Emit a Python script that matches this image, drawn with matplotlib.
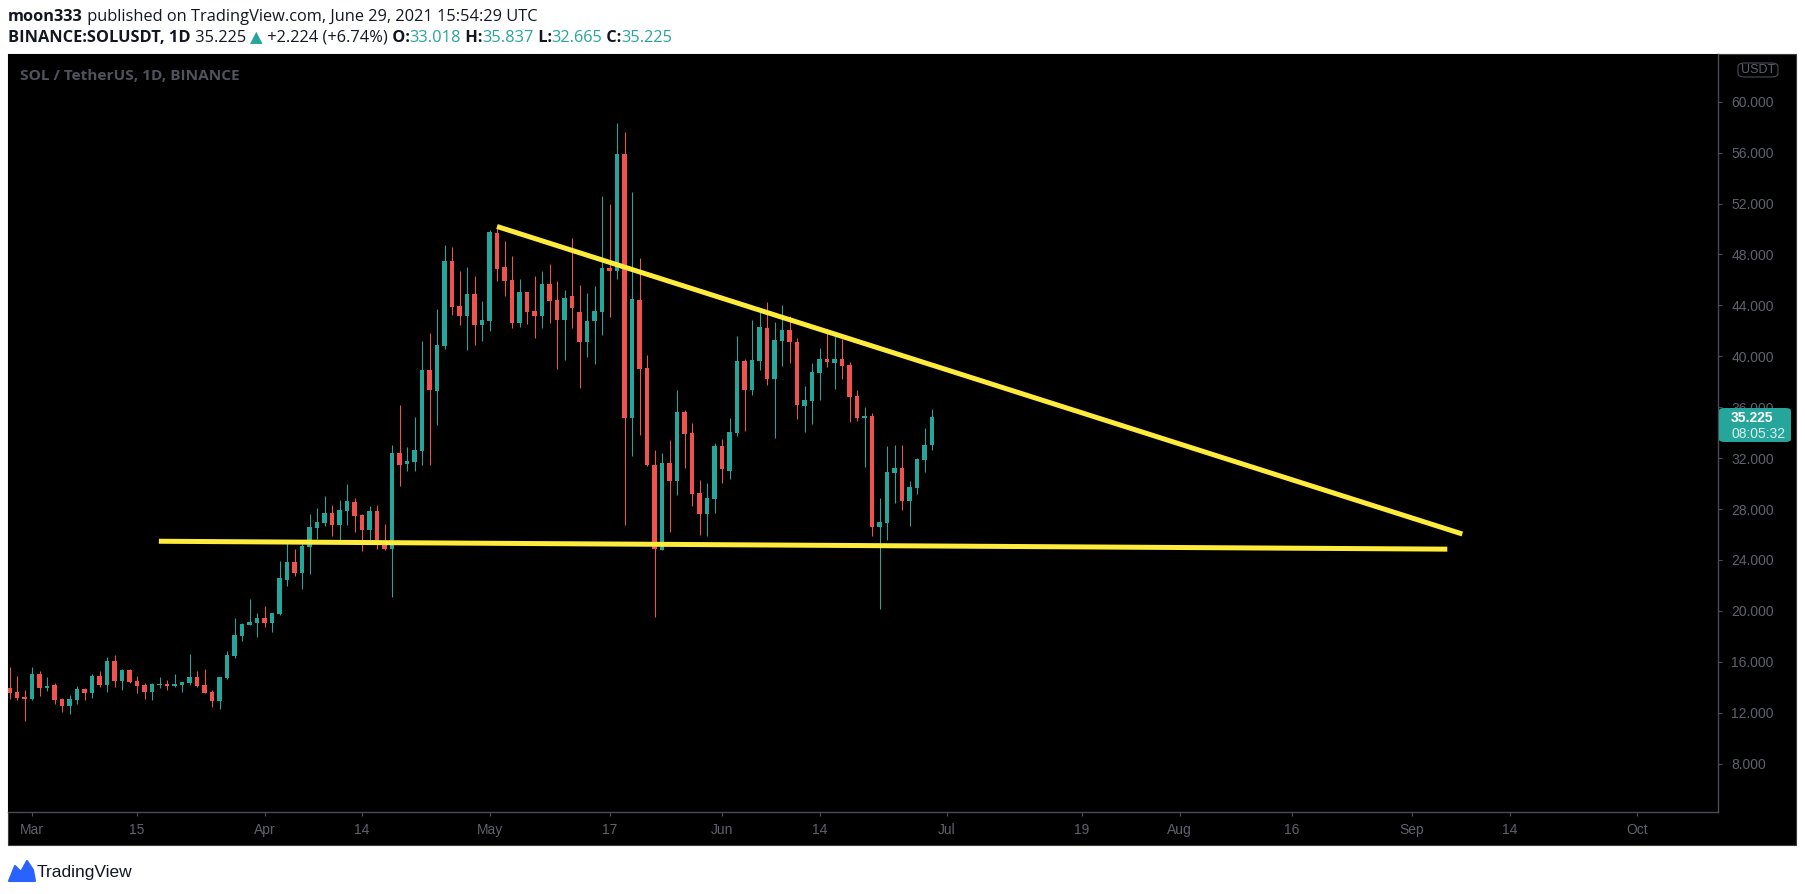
import matplotlib
matplotlib.use("Agg")
import matplotlib.pyplot as plt
import matplotlib.dates as mdates
from matplotlib.patches import Rectangle, FancyBboxPatch, Polygon
import pandas as pd

W, H = 1805, 894

# daily candles, SOL/USDT
dates = pd.date_range("2021-02-26", "2021-06-29", freq="D")
opens = [13.94, 13.62, 13.23,
         13.07, 15.04, 13.96, 14.17, 13.07, 12.52, 12.99, 13.86, 13.54, 14.88,
         14.17, 16.06, 14.49, 15.35, 14.49, 14.17, 13.62, 14.17, 14.25, 14.09,
         14.17, 14.33, 14.80, 14.17, 13.62, 12.92, 14.72, 16.45, 18.03, 18.92, 19.08,
         19.44, 19.08, 19.76, 22.43, 23.84, 22.98, 25.02, 26.51, 26.91, 27.69,
         26.75, 27.85, 28.56, 27.54, 26.36, 27.85, 25.33, 24.86, 32.41, 31.54,
         31.69, 32.56, 38.92, 37.27, 40.81, 47.49, 43.95, 43.16, 44.89, 42.46,
         42.77, 49.69, 47.01, 45.99, 42.61, 45.05, 43.56, 43.16, 45.68, 44.42,
         42.85, 44.70, 43.49, 41.13, 42.76, 43.51, 46.95, 46.71, 55.90, 35.16,
         44.43, 39.09, 31.49, 24.76, 31.65, 30.21, 35.60, 33.96, 29.24, 27.64, 28.80,
         32.96, 31.00, 33.97, 39.63, 37.35, 39.63, 42.22, 38.21, 41.20, 42.06,
         41.12, 36.09, 36.48, 38.68, 39.78, 39.47, 39.78, 39.31, 36.88, 35.15,
         35.31, 26.58, 26.90, 30.83, 31.22, 28.63, 29.65, 31.85, 33.018]
highs = [15.59, 14.88, 13.78,
         15.59, 15.27, 14.80, 14.33, 13.18, 13.36, 14.07, 13.94, 15.04, 15.27,
         16.37, 16.53, 15.43, 15.43, 14.88, 14.33, 14.33, 14.80, 14.57, 15.04,
         14.41, 16.61, 15.27, 15.43, 13.78, 14.80, 16.85, 19.44, 19.08, 20.94, 19.84,
         20.39, 19.84, 23.92, 25.57, 24.86, 25.33, 27.61, 28.08, 29.03, 28.32,
         28.71, 29.97, 28.87, 27.61, 28.24, 28.32, 26.83, 33.03, 36.18, 32.87,
         35.23, 41.20, 41.83, 43.71, 48.74, 48.59, 46.70, 47.01, 46.31, 44.34,
         49.92, 50.05, 49.06, 47.88, 46.07, 45.05, 46.31, 46.70, 47.25, 45.91,
         45.21, 49.30, 45.58, 44.98, 45.50, 52.58, 51.95, 58.29, 57.60, 52.94,
         47.76, 40.08, 32.65, 32.41, 33.43, 37.39, 35.76, 34.74, 30.31, 30.03, 33.17,
         33.51, 35.15, 41.59, 39.78, 42.85, 43.48, 44.26, 42.69, 44.03, 43.16,
         41.43, 37.66, 39.47, 40.65, 41.83, 41.83, 41.36, 39.55, 37.35, 36.01,
         35.54, 28.86, 32.95, 33.03, 33.03, 30.20, 32.01, 34.36, 35.837]
lows = [13.10, 13.02, 11.34,
        13.02, 13.31, 13.73, 12.68, 12.08, 11.89, 12.68, 12.99, 13.15, 14.02,
        13.62, 14.02, 13.78, 14.33, 13.54, 13.07, 12.99, 13.94, 13.78, 14.02,
        13.62, 14.17, 14.02, 13.54, 12.44, 12.29, 14.65, 16.29, 17.64, 18.92, 17.98,
        18.76, 18.37, 19.68, 21.98, 22.74, 21.72, 22.90, 25.65, 26.67, 25.88,
        25.49, 26.75, 26.20, 24.71, 25.41, 24.86, 24.78, 21.09, 29.81, 31.00,
        31.00, 31.46, 31.46, 34.60, 40.57, 43.24, 42.46, 40.49, 40.89, 41.20,
        41.99, 45.91, 44.74, 42.22, 42.30, 42.54, 41.44, 42.22, 42.61, 39.00,
        39.71, 42.20, 37.54, 39.95, 39.43, 41.66, 43.07, 46.08, 26.78, 32.20,
        33.85, 31.39, 19.50, 24.76, 26.18, 29.11, 31.21, 28.27, 25.94, 25.86, 27.72,
        30.05, 30.36, 33.73, 34.13, 36.96, 38.92, 37.74, 33.58, 39.23, 39.47,
        35.07, 34.05, 34.68, 36.56, 39.16, 37.43, 38.21, 34.83, 34.91, 31.30,
        25.88, 20.14, 25.56, 28.47, 27.92, 26.66, 29.18, 30.91, 32.665]
closes = [13.57, 13.18, 13.10,
          15.04, 13.94, 14.09, 12.99, 12.52, 13.07, 13.86, 13.54, 14.88, 14.17,
          16.06, 14.49, 15.35, 14.41, 14.09, 13.62, 14.25, 14.25, 14.09, 14.25,
          14.41, 14.80, 14.09, 13.54, 12.92, 14.80, 16.53, 18.10, 19.00, 19.16, 19.44,
          19.08, 19.84, 22.58, 23.84, 22.98, 25.10, 26.59, 26.98, 27.69, 26.75,
          27.93, 28.63, 27.46, 26.36, 27.85, 25.26, 24.86, 32.41, 31.46, 31.77,
          32.64, 38.92, 37.35, 40.89, 47.49, 43.87, 43.16, 44.89, 42.46, 42.85,
          49.76, 46.86, 45.91, 42.61, 45.05, 43.48, 43.16, 45.68, 44.34, 42.85,
          44.58, 43.80, 41.13, 42.81, 43.57, 46.92, 46.71, 55.90, 35.16, 44.51,
          39.04, 31.44, 24.84, 31.65, 30.21, 35.60, 33.93, 29.19, 27.64, 28.85, 32.96,
          31.13, 34.05, 39.63, 37.35, 39.71, 42.30, 38.21, 41.28, 42.06, 41.12,
          36.17, 36.56, 38.76, 39.78, 39.55, 39.78, 39.23, 36.80, 35.15, 35.31,
          26.58, 26.98, 30.91, 31.22, 28.63, 29.73, 31.93, 33.03, 35.225]

# hand-drawn trend lines
resist_dates = ["2021-05-02 00:00", "2021-09-07 17:00"]
resist_prices = [50.2, 26.04]
support_dates = ["2021-03-17 22:00", "2021-09-05 17:00"]
support_prices = [25.47, 24.85]

price_ticks = list(range(8, 61, 4))
time_tick_dates = ["2021-03-01", "2021-03-15", "2021-04-01", "2021-04-14",
                   "2021-05-01", "2021-05-17", "2021-06-01", "2021-06-14",
                   "2021-07-01", "2021-07-19", "2021-08-01", "2021-08-16",
                   "2021-09-01", "2021-09-14", "2021-10-01"]
time_tick_labels = ["Mar", "15", "Apr", "14", "May", "17", "Jun", "14",
                    "Jul", "19", "Aug", "16", "Sep", "14", "Oct"]

last_price = 35.225
countdown = "08:05:32"

UP = "#26a69a"
DOWN = "#ef5350"
GRID_TXT = "#5f626c"
SEP = "#4a4c55"
FONT = ["Liberation Sans", "DejaVu Sans"]
HEAD_FONT = ["Open Sans", "DejaVu Sans"]


def fx(x):
    return x / W


def fy(y):
    return 1 - y / H


fig = plt.figure(figsize=(W / 100, H / 100), dpi=100, facecolor="white")

# black chart pane incl. price / time scales
fig.patches.append(Rectangle((fx(8), fy(845)), fx(1796) - fx(8), fy(54) - fy(845),
                             transform=fig.transFigure, facecolor="black",
                             edgecolor="#3a3a3a", linewidth=0.8, zorder=-5))

ax = fig.add_axes([fx(8), fy(812), fx(1718) - fx(8), fy(54) - fy(812)])
ax.set_facecolor("black")

x = mdates.date2num(dates)
for xi, o, h, l, c in zip(x, opens, highs, lows, closes):
    col = UP if c >= o else DOWN
    ax.vlines(xi, l, h, color=col, linewidth=0.75, zorder=2)
    ax.bar(xi, max(abs(c - o), 0.08), width=0.66, bottom=min(o, c), color=col,
           linewidth=0, zorder=3)

ax.plot(mdates.date2num(pd.to_datetime(resist_dates)), resist_prices,
        color="#ffeb3b", linewidth=3.6, solid_capstyle="butt", zorder=4)
ax.plot(mdates.date2num(pd.to_datetime(support_dates)), support_prices,
        color="#ffeb3b", linewidth=3.6, solid_capstyle="butt", zorder=4)

x0 = mdates.date2num(pd.Timestamp("2021-03-01"))
ax.set_xlim(x0 - 3.2, x0 + 224.8)
ax.set_ylim(4.20, 63.75)

for s in ["top", "left"]:
    ax.spines[s].set_visible(False)
for s in ["right", "bottom"]:
    ax.spines[s].set_color(SEP)
    ax.spines[s].set_linewidth(1.0)

ax.yaxis.tick_right()
ax.set_yticks(price_ticks)
ax.set_yticklabels([f"{p:.3f}" for p in price_ticks], fontfamily=FONT)
ax.set_xticks(mdates.date2num(pd.to_datetime(time_tick_dates)))
ax.set_xticklabels(time_tick_labels, fontfamily=FONT)
ax.tick_params(axis="y", colors=SEP, labelcolor=GRID_TXT, labelsize=10,
               length=3, width=0.8, pad=6.5)
ax.tick_params(axis="x", colors=SEP, labelcolor=GRID_TXT, labelsize=10,
               length=3, width=0.8, pad=5)

# last price label on the price scale
fig.patches.append(FancyBboxPatch((fx(1719), fy(442)), fx(1791) - fx(1719), fy(408) - fy(442),
                                  boxstyle="round,pad=0,rounding_size=0.003",
                                  transform=fig.transFigure, facecolor=UP,
                                  edgecolor="none", zorder=10))
fig.text(fx(1731), fy(418), f"{last_price:.3f}", color="white", fontsize=10,
         fontweight="bold", family=FONT, va="center", ha="left", zorder=11)
fig.text(fx(1731), fy(434), countdown, color="#d6f0ed", fontsize=10,
         family=FONT, va="center", ha="left", zorder=11)

# currency badge
fig.patches.append(FancyBboxPatch((fx(1738), fy(77)), fx(1778) - fx(1738), fy(63) - fy(77),
                                  boxstyle="round,pad=0,rounding_size=0.004",
                                  transform=fig.transFigure, facecolor="black",
                                  edgecolor="#4a4c55", linewidth=0.8, zorder=10))
fig.text(fx(1758), fy(70), "USDT", color=GRID_TXT, fontsize=9, family=FONT,
         va="center", ha="center", zorder=11)

fig.text(fx(20), fy(76), "SOL / TetherUS, 1D, BINANCE", color="#4f535d",
         fontsize=11.1, fontweight="bold", family=HEAD_FONT, va="center", ha="left")

# header lines
renderer = fig.canvas.get_renderer()


def put_run(xpix, ypix, parts, size=11.8):
    for txt, weight, color in parts:
        t = fig.text(fx(xpix), fy(ypix), txt, fontsize=size, fontweight=weight,
                     color=color, family=HEAD_FONT, va="center", ha="left")
        xpix += t.get_window_extent(renderer).width


DARK = "#131722"
put_run(8, 17, [("moon333", "bold", DARK),
                (" published on TradingView.com, June 29, 2021 15:54:29 UTC", "normal", DARK)])
put_run(8, 38, [("BINANCE:SOLUSDT, 1D", "bold", DARK),
                (" 35.225 ", "normal", DARK),
                ("\u25b2", "normal", UP),
                (" +2.224 (+6.74%)", "normal", DARK),
                (" O:", "bold", DARK), ("33.018", "normal", UP),
                (" H:", "bold", DARK), ("35.837", "normal", UP),
                (" L:", "bold", DARK), ("32.665", "normal", UP),
                (" C:", "bold", DARK), ("35.225", "normal", UP)])

# footer logo
logo = [(9, 881), (15, 866), (21, 872), (27, 861), (33, 870), (35, 881)]
fig.patches.append(Polygon([(fx(px), fy(py)) for px, py in logo], closed=True,
                           transform=fig.transFigure, facecolor="#2962ff",
                           edgecolor="#2962ff", linewidth=1.5, joinstyle="round"))
fig.text(fx(37), fy(872), "TradingView", color=DARK, fontsize=12.5, family=FONT,
         va="center", ha="left")

fig.savefig("out.png", dpi=100, facecolor="white")
